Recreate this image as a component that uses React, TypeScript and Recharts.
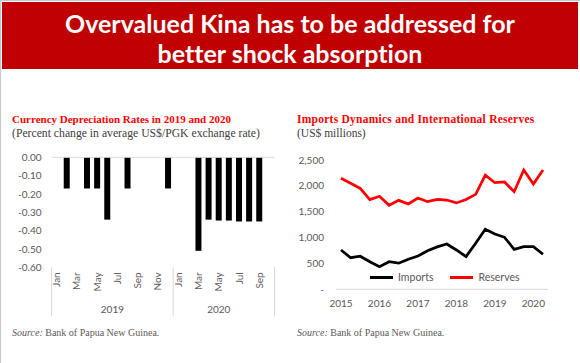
import { Bar, BarChart, Legend, Line, LineChart, ReferenceLine, XAxis, YAxis } from 'recharts'

// left panel: monthly depreciation, Jan 2019 – Oct 2020
const months = ['Jan', 'Feb', 'Mar', 'Apr', 'May', 'Jun', 'Jul', 'Aug', 'Sep', 'Oct', 'Nov', 'Dec', 'Jan', 'Feb', 'Mar', 'Apr', 'May', 'Jun', 'Jul', 'Aug', 'Sep', 'Oct']
const monthYears = ['2019', '2019', '2019', '2019', '2019', '2019', '2019', '2019', '2019', '2019', '2019', '2019', '2020', '2020', '2020', '2020', '2020', '2020', '2020', '2020', '2020', '2020']
const depreciation = [0, -0.17, 0, -0.17, -0.17, -0.34, 0, -0.17, 0, 0, 0, -0.17, 0, 0, -0.51, -0.34, -0.345, -0.345, -0.35, -0.35, -0.35, null]
const depTicks = [0, -0.1, -0.2, -0.3, -0.4, -0.5, -0.6]

// right panel: quarterly, 2015Q1 – 2020Q2
const quarters = ['2015Q1', '2015Q2', '2015Q3', '2015Q4', '2016Q1', '2016Q2', '2016Q3', '2016Q4', '2017Q1', '2017Q2', '2017Q3', '2017Q4', '2018Q1', '2018Q2', '2018Q3', '2018Q4', '2019Q1', '2019Q2', '2019Q3', '2019Q4', '2020Q1', '2020Q2']
const imports = [760, 611, 640, 534, 437, 534, 505, 580, 643, 745, 820, 876, 760, 631, 889, 1160, 1070, 1005, 773, 824, 824, 677]
const reserves = [2146, 2049, 1950, 1735, 1800, 1625, 1720, 1650, 1765, 1694, 1740, 1726, 1670, 1735, 1836, 2209, 2061, 2075, 1887, 2306, 2036, 2306]
const reserveTicks = [0, 500, 1000, 1500, 2000, 2500]

const depData = months.map((month, i) => ({ month, year: monthYears[i], value: depreciation[i] }))
const tradeData = quarters.map((q, i) => ({ q, imports: imports[i], reserves: reserves[i] }))

const SANS = 'Lato, "Open Sans", sans-serif'
const SERIF = '"Liberation Serif", "DejaVu Serif", serif'
const AXIS_GREY = '#595959'
const LINE_GREY = '#D9D9D9'

const LEFT_W = 290
const LEFT_MARGIN = { top: 17.3, right: 15.5, bottom: 2.7, left: 0 }
const LEFT_YAXIS_W = 51.6
const BAND = (LEFT_W - LEFT_MARGIN.right - LEFT_YAXIS_W) / months.length

function MonthTick(props: any) {
  const { x, y, index } = props
  const showMonth = index % 2 === 0
  return (
    <g>
      {showMonth && (
        <text x={x} y={y} dy="0.35em" transform={`rotate(-90 ${x} ${y})`} textAnchor="end" fontSize={10} fontFamily={SANS} fill={AXIS_GREY}>
          {months[index]}
        </text>
      )}
      {(index === 0 || index === 12) && (
        <line x1={x - BAND / 2} x2={x - BAND / 2} y1={y - 5} y2={y + 44} stroke={LINE_GREY} />
      )}
      {index === months.length - 1 && (
        <line x1={x + BAND / 2} x2={x + BAND / 2} y1={y - 5} y2={y + 44} stroke={LINE_GREY} />
      )}
      {index === 6 && (
        <text x={x - BAND / 2} y={y + 37} dy="0.35em" textAnchor="middle" fontSize={10} fontFamily={SANS} fill={AXIS_GREY}>
          {monthYears[index]}
        </text>
      )}
      {index === 16 && (
        <text x={x} y={y + 37} dy="0.35em" textAnchor="middle" fontSize={10} fontFamily={SANS} fill={AXIS_GREY}>
          {monthYears[index]}
        </text>
      )}
    </g>
  )
}

function TradeLegend(props: any) {
  const items = props.payload || []
  return (
    <div style={{ display: 'flex', alignItems: 'center', fontFamily: SANS, fontSize: 10.5, color: AXIS_GREY, lineHeight: '12px' }}>
      {items.map((item: any) => (
        <span key={item.value} style={{ display: 'flex', alignItems: 'center', marginRight: 17 }}>
          <span style={{ display: 'inline-block', width: 23, height: 3, background: item.color, marginRight: 5 }} />
          {item.value}
        </span>
      ))}
    </div>
  )
}

const titleStyle = { position: 'absolute' as const, fontFamily: SERIF, fontSize: 11, fontWeight: 700, color: '#FF0000', whiteSpace: 'nowrap' as const, lineHeight: '13px' }
const subStyle = { position: 'absolute' as const, fontFamily: SERIF, fontSize: 11.5, color: '#404040', whiteSpace: 'nowrap' as const, lineHeight: '13px' }
const sourceStyle = { position: 'absolute' as const, fontFamily: SERIF, fontSize: 10, color: AXIS_GREY, whiteSpace: 'nowrap' as const, lineHeight: '12px' }

export default function App() {
  return (
    <div style={{ position: 'absolute', left: 0, top: 0, width: 580, height: 363, background: '#fff', borderLeft: '1px solid #C8C8C8', borderTop: '1px solid #C8C8C8', boxSizing: 'border-box', overflow: 'hidden' }}>
      <div style={{ position: 'absolute', left: 1, top: 1, width: 576, height: 67, background: '#C00000', color: '#fff', fontFamily: SANS, fontWeight: 700, fontSize: 25, lineHeight: '30px', textAlign: 'center', paddingTop: 6, boxSizing: 'border-box', fontVariantLigatures: 'none' }}>
        Overvalued Kina has to be addressed for
        <br />
        better shock absorption
      </div>

      <div style={{ ...titleStyle, left: 11, top: 112 }}>Currency Depreciation Rates in 2019 and 2020</div>
      <div style={{ ...subStyle, fontSize: 11.7, left: 11, top: 126 }}>(Percent change in average US$/PGK exchange rate)</div>
      <div style={{ position: 'absolute', left: -1, top: 139 }}>
        <BarChart width={LEFT_W} height={180} data={depData} margin={LEFT_MARGIN} barSize={6}>
          <YAxis
            width={LEFT_YAXIS_W}
            domain={[-0.6, 0]}
            ticks={depTicks}
            tickFormatter={(v) => Number(v).toFixed(2)}
            axisLine={false}
            tickLine={false}
            tickSize={0}
            tickMargin={10}
            tick={{ fontSize: 10, fontFamily: SANS, fill: AXIS_GREY }}
          />
          <XAxis dataKey="month" interval={0} height={50} axisLine={false} tickLine={false} tickSize={0} tickMargin={5} tick={<MonthTick />} />
          <ReferenceLine y={0} stroke={LINE_GREY} />
          <Bar dataKey="value" fill="#000000" isAnimationActive={false} />
        </BarChart>
      </div>
      <div style={{ ...sourceStyle, left: 11, top: 326 }}>
        <i>Source:</i> Bank of Papua New Guinea.
      </div>

      <div style={{ ...titleStyle, fontSize: 11.5, letterSpacing: 0.25, left: 296, top: 112 }}>Imports Dynamics and International Reserves</div>
      <div style={{ ...subStyle, left: 296, top: 126 }}>(US$ millions)</div>
      <div style={{ position: 'absolute', left: 289, top: 139 }}>
        <LineChart width={290} height={180} data={tradeData} margin={{ top: 20, right: 32, bottom: 2.7, left: 0 }}>
          <YAxis
            width={46}
            domain={[0, 2500]}
            ticks={reserveTicks}
            tickFormatter={(v) => (v === 0 ? '-' : Number(v).toLocaleString('en-US'))}
            axisLine={false}
            tickLine={false}
            tickSize={0}
            tickMargin={12}
            tick={{ fontSize: 10, fontFamily: SANS, fill: AXIS_GREY }}
          />
          <XAxis
            dataKey="q"
            interval={0}
            height={28}
            padding={{ left: 5, right: 5 }}
            axisLine={{ stroke: LINE_GREY }}
            tickLine={false}
            tickSize={0}
            tickMargin={11}
            tickFormatter={(q) => (String(q).endsWith('Q1') ? String(q).slice(0, 4) : '')}
            tick={{ fontSize: 10, fontFamily: SANS, fill: AXIS_GREY }}
          />
          <Legend layout="horizontal" verticalAlign="middle" align="center" content={<TradeLegend />} wrapperStyle={{ left: 80, top: 131, width: 180 }} />
          <Line type="linear" dataKey="imports" name="Imports" stroke="#000000" strokeWidth={2.75} dot={false} isAnimationActive={false} />
          <Line type="linear" dataKey="reserves" name="Reserves" stroke="#FF0000" strokeWidth={2.75} dot={false} isAnimationActive={false} />
        </LineChart>
      </div>
      <div style={{ ...sourceStyle, left: 296, top: 326 }}>
        <i>Source:</i> Bank of Papua New Guinea.
      </div>
    </div>
  )
}
